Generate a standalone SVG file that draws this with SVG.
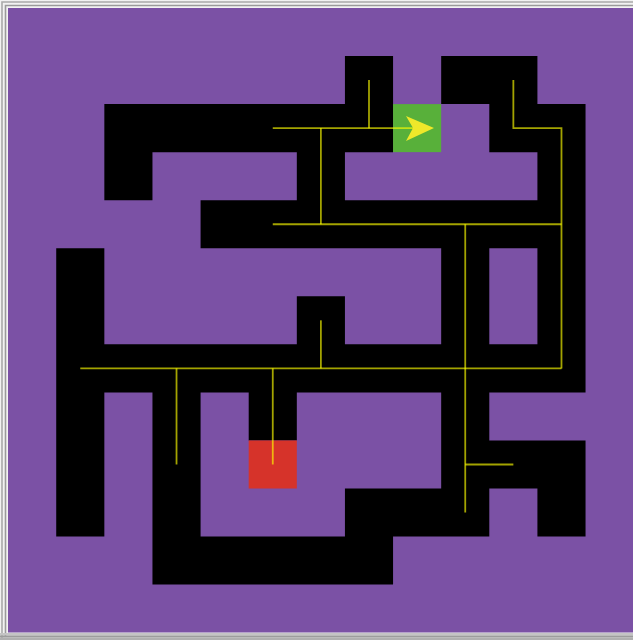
<svg xmlns="http://www.w3.org/2000/svg" width="633" height="640" viewBox="0 0 633 640">
  <style>
    .wall { fill: #000000; }
    .path { fill: none; stroke: #ffff00; stroke-opacity: 0.64; stroke-width: 1.8; stroke-linecap: butt; }
  </style>
  <!-- frame -->
  <rect x="0" y="0" width="633" height="640" fill="#f2f2f2"/>
  <path d="M2,640 V2 H633" fill="none" stroke="#a9a9a9" stroke-width="1.6"/>
  <path d="M5.5,636 V5.5 H633" fill="none" stroke="#9a9a9a" stroke-width="1.6"/>
  <rect x="0" y="633" width="633" height="2.5" fill="#c4c4c4"/>
  <rect x="0" y="635.5" width="633" height="2" fill="#9c9c9c"/>
  <rect x="0" y="637.5" width="633" height="2.5" fill="#b0b0b0"/>
  <!-- field -->
  <rect id="field" x="8" y="8" width="625" height="624.5" fill="#7b51a5"/>

  <g id="maze" transform="translate(8.1,8) scale(48.12,48.05)">
    <path class="wall" d="
      M7,1 h1 v1 h-1 z
      M9,1 h2 v1 h-2 z
      M2,2 h6 v1 h-6 z
      M10,2 h2 v1 h-2 z
      M2,3 h1 v1 h-1 z
      M6,3 h1 v1 h-1 z
      M11,3 h1 v1 h-1 z
      M4,4 h8 v1 h-8 z
      M1,5 h1 v6 h-1 z
      M6,6 h1 v1 h-1 z
      M9,5 h1 v2 h-1 z
      M11,5 h1 v2 h-1 z
      M1,7 h11 v1 h-11 z
      M3,8 h1 v3 h-1 z
      M5,8 h1 v1 h-1 z
      M9,8 h1 v3 h-1 z
      M10,9 h2 v1 h-2 z
      M7,10 h2 v1 h-2 z
      M11,10 h1 v1 h-1 z
      M3,11 h5 v1 h-5 z"/>
    <rect id="start" x="8" y="2" width="1" height="1" fill="#58b03a"/>
    <rect id="end" x="5" y="9" width="1" height="1" fill="#d6332a"/>
  </g>

  <g id="connectors">
    <path class="path" d="M272.76,128.13 H413"/>
    <path class="path" d="M369,80.08 V128.13"/>
    <path class="path" d="M320.88,128.13 V224.23"/>
    <path class="path" d="M272.76,224.23 H561.48"/>
    <path class="path" d="M513.36,80.08 V128.13 H561.48 V368.38"/>
    <path class="path" d="M465.24,224.23 V512.53"/>
    <path class="path" d="M80.28,368.38 H561.48"/>
    <path class="path" d="M176.52,368.38 V464.48"/>
    <path class="path" d="M272.76,368.38 V464.48"/>
    <path class="path" d="M320.88,320.33 V368.38"/>
    <path class="path" d="M465.24,464.48 H513.36"/>
  </g>

  <polygon id="arrow" points="434,128 406,116 413,128 406,141" fill="#efe82a"/>
</svg>
